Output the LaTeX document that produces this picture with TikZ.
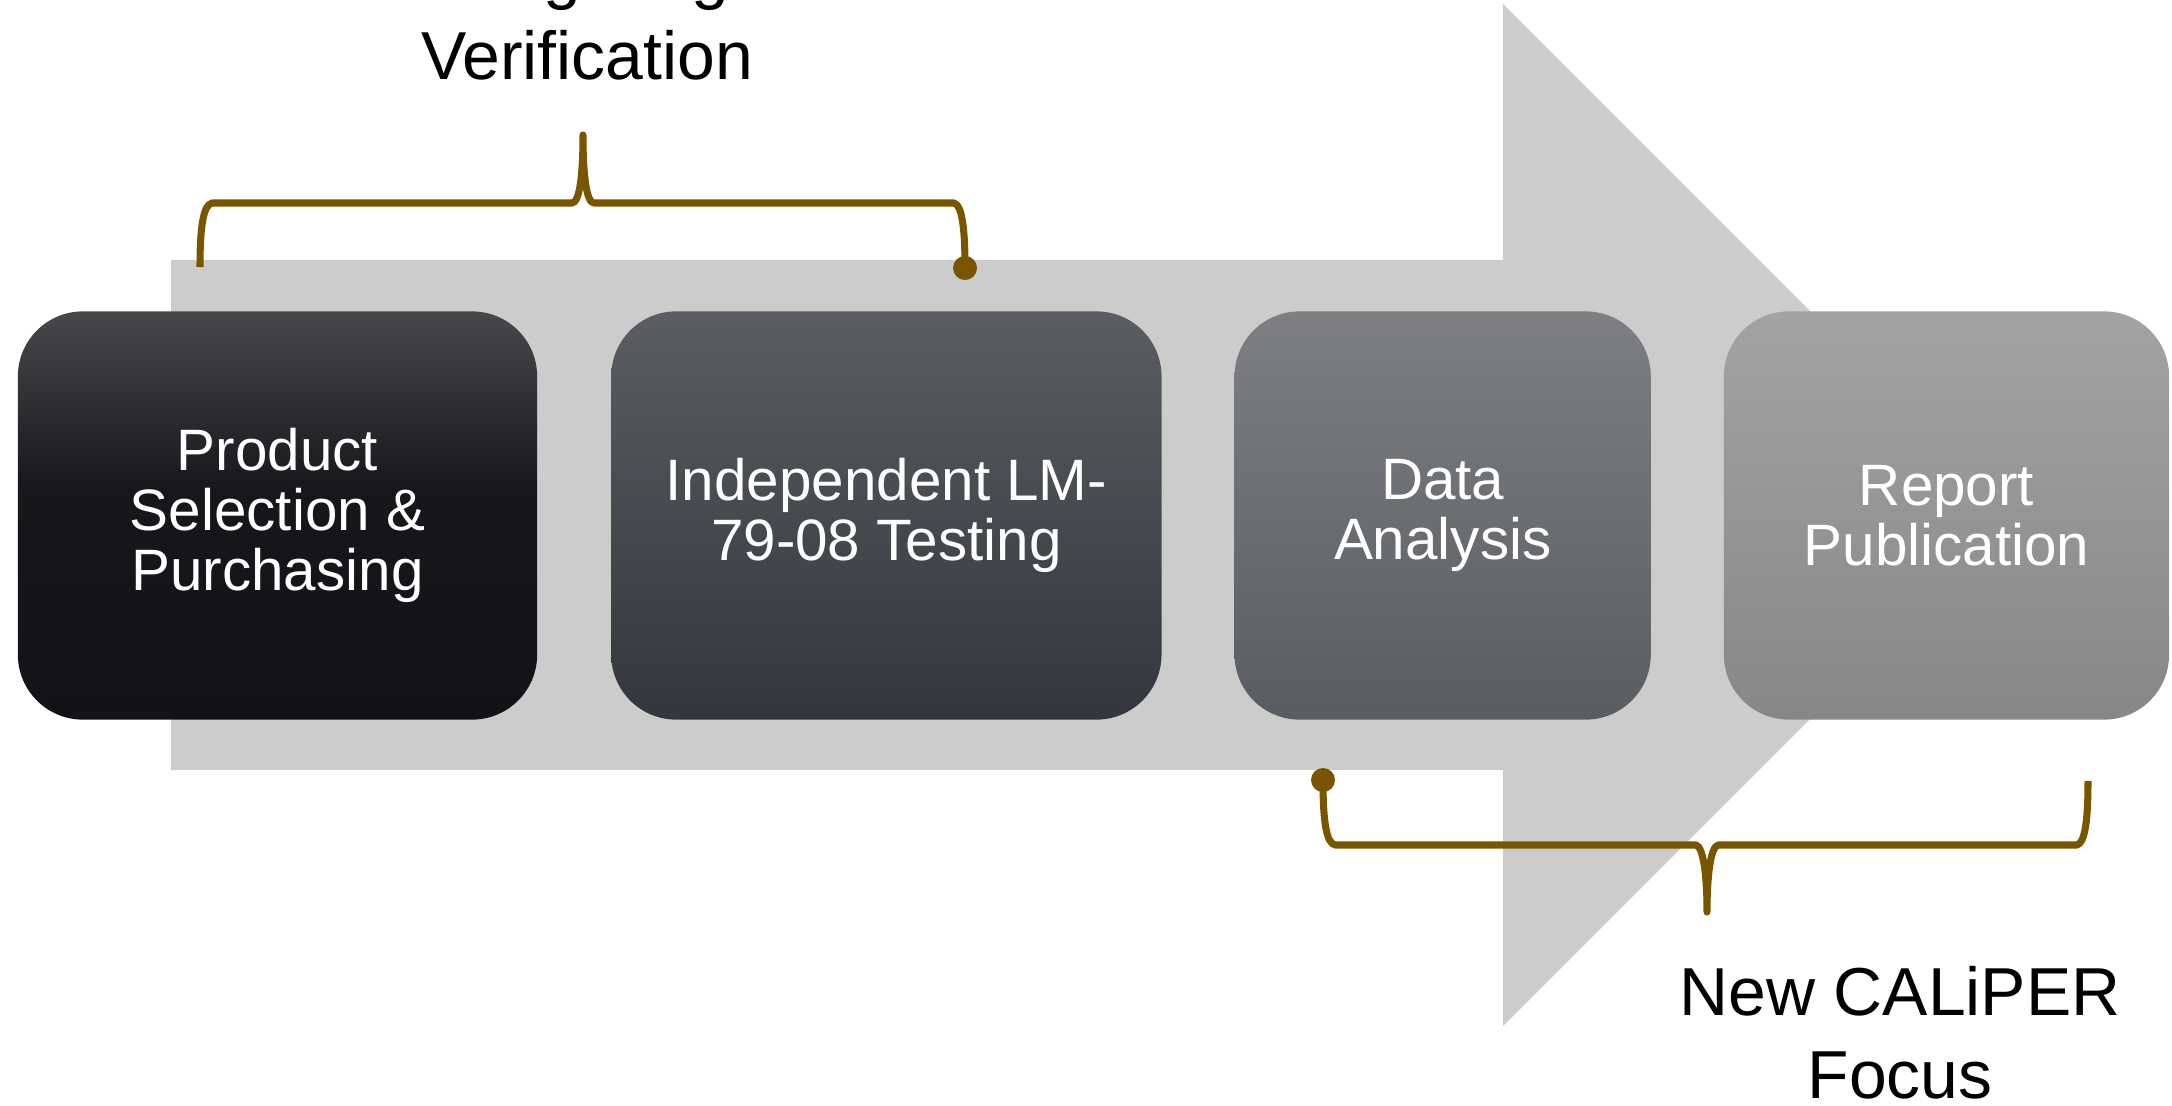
\documentclass[tikz,border=0pt]{standalone}
\usepackage{fontspec}
\setmainfont{Liberation Sans}
\usetikzlibrary{positioning}
\definecolor{shaftgray}{HTML}{CCCCCC}
\definecolor{bracebrown}{HTML}{7A5500}
\definecolor{prodtop}{HTML}{47484B}
\definecolor{prodmid}{HTML}{15171A}
\definecolor{prodbot}{HTML}{111316}
\pgfdeclareverticalshading{prodshade}{100bp}{color(0bp)=(prodbot); color(25bp)=(prodbot); color(53bp)=(prodmid); color(75bp)=(prodtop); color(100bp)=(prodtop)}
\tikzset{
  stage/.style={rounded corners=0.65cm, minimum height=4.08cm, inner sep=0pt, outer sep=0pt, align=center, text=white, font=\fontsize{16.6}{17.1}\selectfont},
  dot/.style={circle, fill=bracebrown, inner sep=0pt, minimum size=0.24cm},
  bracecurve/.style={draw=bracebrown, line width=2pt, line join=round},
  caption/.style={inner sep=0pt, font=\fontsize{19.3}{23.6}\selectfont},
}

\begin{document}
\begin{tikzpicture}[x=0.01cm,y=-0.01cm]
  \useasboundingbox (0,0) rectangle (2172,1106);
  \clip (0,0) rectangle (2172,1106);

  % big grey arrow behind the stages
  \fill [shaftgray] (171,260) -- (1503,260) -- (1503,4) -- (2014,515) -- (1503,1026) -- (1503,770) -- (171,770) -- cycle;

  % the four stages
  \node [stage, minimum width=5.19cm, shading=prodshade] (prod) at (277.5,515.5) {Product\\Selection \&\\Purchasing};
  \node [stage, minimum width=5.50cm, right=0.74cm of prod, top color={rgb,255:red,90;green,93;blue,97}, middle color={rgb,255:red,60;green,63;blue,70}, bottom color={rgb,255:red,51;green,54;blue,61}] (test) {Independent LM-\\79-08 Testing};
  \node [stage, minimum width=4.16cm, right=0.73cm of test, top color={rgb,255:red,125;green,127;blue,131}, bottom color={rgb,255:red,89;green,92;blue,97}] (data) {Data\\Analysis};
  \node [stage, minimum width=4.45cm, right=0.73cm of data, top color={rgb,255:red,163;green,163;blue,163}, bottom color={rgb,255:red,135;green,135;blue,135}] (report) {Report\\Publication};

  % upper brace
  \coordinate (vleft) at (200,267);
  \node [dot] (vdot) at (965,268) {};
  \draw [bracecurve] (vleft) .. controls (200,228) and (203,205) .. (212,203) -- (572,203)
    .. controls (580,203) and (583,172) .. (583,135) .. controls (583,172) and (586,203) .. (594,203)
    -- (954,203) .. controls (962,205) and (965,228) .. (vdot.center);
  \node [caption, anchor=base] (light) at (610,-3) {Lighting};
  \node [caption, anchor=base] (verif) at (587,80) {Verification};

  % lower brace
  \node [dot] (ndot) at (1323,780) {};
  \coordinate (nright) at (2088,781);
  \draw [bracecurve] (ndot.center) .. controls (1323,820) and (1326,843) .. (1335,845) -- (1696,845)
    .. controls (1704,847) and (1707,880) .. (1707,912) .. controls (1707,880) and (1710,847) .. (1718,845)
    -- (2077,845) .. controls (2085,843) and (2088,820) .. (nright);
  \node [caption, anchor=base] (newcal) at (1900,1015) {New CALiPER};
  \node [caption, anchor=base] (focus) at (1900,1098) {Focus};
\end{tikzpicture}
\end{document}
